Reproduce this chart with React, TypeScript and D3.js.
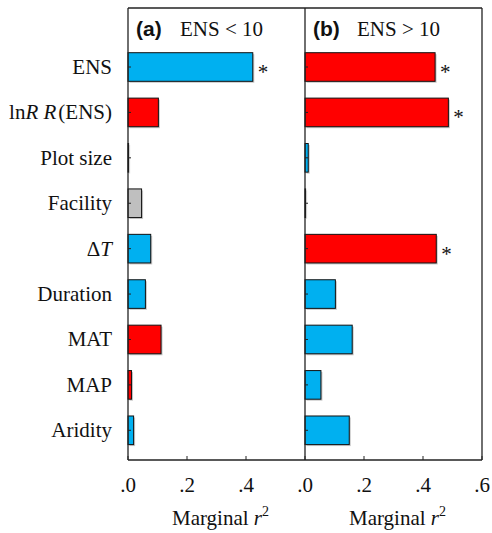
import * as d3 from 'd3'

const categories = ['ENS', 'lnRR(ENS)', 'Plot size', 'Facility', 'dT', 'Duration', 'MAT', 'MAP', 'Aridity']

// panel (a) ENS < 10
const valuesA = [0.423, 0.103, 0.002, 0.046, 0.077, 0.059, 0.112, 0.012, 0.019]
const groupA = ['pos', 'neg', 'pos', 'cat', 'pos', 'pos', 'neg', 'neg', 'pos']
const signifA = [true, false, false, false, false, false, false, false, false]

// panel (b) ENS > 10
const valuesB = [0.441, 0.486, 0.011, 0.002, 0.445, 0.103, 0.160, 0.054, 0.150]
const groupB = ['neg', 'neg', 'pos', 'cat', 'neg', 'pos', 'pos', 'pos', 'pos']
const signifB = [true, true, false, false, true, false, false, false, false]

const ticks = [0, 0.2, 0.4, 0.6]
const tickFormat = (d: number) => d3.format('.1f')(d).replace(/^0/, '')

const WIDTH = 492
const HEIGHT = 533
const TOP = 8
const BOTTOM = 460
const LEFT = 128
const PANEL_W = 177
const serif = { fontFamily: "'Liberation Serif', 'Times New Roman', Times, serif" }
const sans = { fontFamily: "'Liberation Sans', Arial, Helvetica, sans-serif" }
const LINE = '#222'

const color = d3.scaleOrdinal<string, string>()
  .domain(['pos', 'neg', 'cat'])
  .range(['#00B0F0', '#FF0000', '#BFBFBF'])

const y = d3.scaleBand()
  .domain(categories)
  .range([44.3, 453])
  .paddingInner(0.37)
  .paddingOuter(0.185)

const label = (c: string) => {
  if (c === 'lnRR(ENS)') {
    return <>ln<tspan fontStyle="italic">R R</tspan><tspan dx="2">(ENS)</tspan></>
  }
  if (c === 'dT') {
    return <>Δ<tspan fontStyle="italic">T</tspan></>
  }
  return c
}

const Panel = ({ x0, values, groups, signif, tag, title, lastTick }: any) => {
  const x = d3.scaleLinear().domain([0, 0.6]).range([x0, x0 + PANEL_W])
  const shownTicks = lastTick ? ticks : ticks.slice(0, 3)
  return (
    <g>
      {categories.map((c, i) => {
        const yy = y(c) as number
        const w = x(values[i]) - x(0)
        return (
          <g key={c}>
            <rect x={x(0) + 1.5} y={yy + 1.5} width={w} height={y.bandwidth()} fill="#c8c8c8" />
            <rect x={x(0)} y={yy} width={w} height={y.bandwidth()}
              fill={color(groups[i])} stroke="#111" strokeWidth={1} />
            {signif[i] && (
              <text x={x(values[i]) + 5} y={yy + y.bandwidth() / 2 + 12}
                style={serif} fontSize={21} fill="#111">*</text>
            )}
            <line x1={x(0)} x2={x(0) + 3} y1={yy + y.bandwidth() / 2} y2={yy + y.bandwidth() / 2}
              stroke={LINE} strokeWidth={1} />
          </g>
        )
      })}
      {shownTicks.map(t => (
        <g key={t}>
          <line x1={x(t)} x2={x(t)} y1={BOTTOM} y2={BOTTOM - 4} stroke={LINE} strokeWidth={1} />
          <text x={x(t)} y={492} textAnchor="middle" style={serif} fontSize={21} fill="#111">
            {tickFormat(t)}
          </text>
        </g>
      ))}
      <text x={x0 + PANEL_W / 2 + 4} y={525} textAnchor="middle" style={serif} fontSize={21} fill="#111">
        Marginal <tspan fontStyle="italic">r</tspan><tspan fontSize={14} dy={-9}>2</tspan>
      </text>
      <text x={x0 + 8} y={36} style={sans} fontWeight="bold" fontSize={21} fill="#111">{tag}</text>
      <text x={x0 + 52} y={36} style={serif} fontSize={21} fill="#111">{title}</text>
      <line x1={x0} x2={x0} y1={TOP} y2={BOTTOM} stroke={LINE} strokeWidth={1.3} />
    </g>
  )
}

export default function App() {
  return (
    <svg width={WIDTH} height={HEIGHT} style={{ position: 'absolute', left: 0, top: 0, background: '#fff' }}>
      <rect x={0} y={0} width={WIDTH} height={HEIGHT} fill="#fff" />
      {categories.map(c => (
        <text key={c} x={112} y={(y(c) as number) + y.bandwidth() / 2 + 7}
          textAnchor="end" style={serif} fontSize={21} fill="#111">
          {label(c)}
        </text>
      ))}
      <Panel x0={LEFT} values={valuesA} groups={groupA} signif={signifA}
        tag="(a)" title="ENS < 10" lastTick={false} />
      <Panel x0={LEFT + PANEL_W} values={valuesB} groups={groupB} signif={signifB}
        tag="(b)" title="ENS > 10" lastTick={true} />
      <line x1={LEFT} x2={LEFT + 2 * PANEL_W} y1={TOP} y2={TOP} stroke={LINE} strokeWidth={1.3} />
      <line x1={LEFT} x2={LEFT + 2 * PANEL_W} y1={BOTTOM} y2={BOTTOM} stroke={LINE} strokeWidth={1.3} />
      <line x1={LEFT + 2 * PANEL_W} x2={LEFT + 2 * PANEL_W} y1={TOP} y2={TOP + (BOTTOM - TOP)} stroke={LINE} strokeWidth={1.3} />
    </svg>
  )
}
